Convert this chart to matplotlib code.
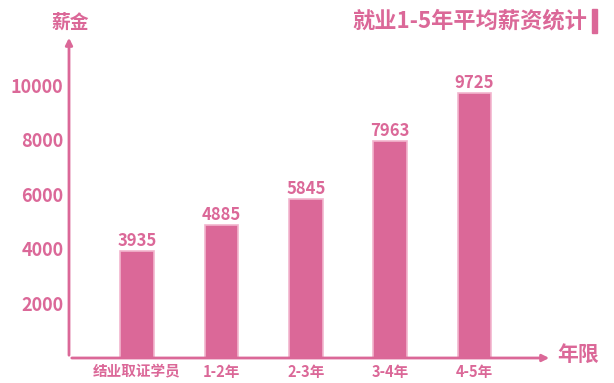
import matplotlib
matplotlib.use("Agg")
import matplotlib.pyplot as plt

# 数据
categories = ["结业取证学员", "1-2年", "2-3年", "3-4年", "4-5年"]
salaries = [3935, 4885, 5845, 7963, 9725]
y_ticks = [2000, 4000, 6000, 8000, 10000]

pink = "#DB6898"
edge = "#F2B5CE"

plt.rcParams['font.family'] = ['Noto Sans CJK SC', 'DejaVu Sans']

W, H = 614, 383
fig = plt.figure(figsize=(W / 100, H / 100), dpi=100, facecolor='white')

# 坐标轴位置 (像素换算)
left, right, bottom, top = 69, 552, 25, 348
ax = fig.add_axes([left / W, bottom / H, (right - left) / W, (top - bottom) / H])

x = list(range(len(categories)))
ax.bar(x, salaries, width=0.4, color=pink, edgecolor=edge, linewidth=1.2, zorder=2)

for xi, v in zip(x, salaries):
    ax.text(xi, v + 40, f"{v}", ha='center', va='bottom', fontsize=12,
            fontweight='bold', color=pink)

ax.set_xlim(-0.806, 4.917)
ax.set_ylim(0, 11850)
ax.set_xticks(x)
ax.set_xticklabels(categories, fontsize=10.5, fontweight='bold', color=pink)
ax.set_yticks(y_ticks)
ax.set_yticklabels([str(t) for t in y_ticks], fontsize=13, fontweight='bold', color=pink)
ax.tick_params(axis='both', length=0)
ax.tick_params(axis='y', pad=4)
ax.tick_params(axis='x', pad=4)

for s in ax.spines.values():
    s.set_visible(False)

# 带箭头的坐标轴
ax.annotate("", xy=(0, 1.0), xytext=(0, 0), xycoords='axes fraction',
            arrowprops=dict(arrowstyle='-|>', color=pink, lw=2, mutation_scale=10))
ax.annotate("", xy=(1.0, 0), xytext=(0, 0), xycoords='axes fraction',
            arrowprops=dict(arrowstyle='-|>', color=pink, lw=2, mutation_scale=10))

fig.text(70 / W, 1 - 22 / H, "薪金", ha='center', va='center', fontsize=13.5,
         fontweight='bold', color=pink)
fig.text(578 / W, 1 - 354 / H, "年限", ha='center', va='center', fontsize=15,
         fontweight='bold', color=pink)

# 标题
fig.text(587 / W, 1 - 21 / H, "就业1-5年平均薪资统计", ha='right', va='center',
         fontsize=16, fontweight='bold', color=pink)
fig.patches.append(plt.Rectangle((592 / W, 1 - 33 / H), 5 / W, 24 / H,
                                 transform=fig.transFigure, color=pink))

fig.savefig("out.png", dpi=100, facecolor='white')
